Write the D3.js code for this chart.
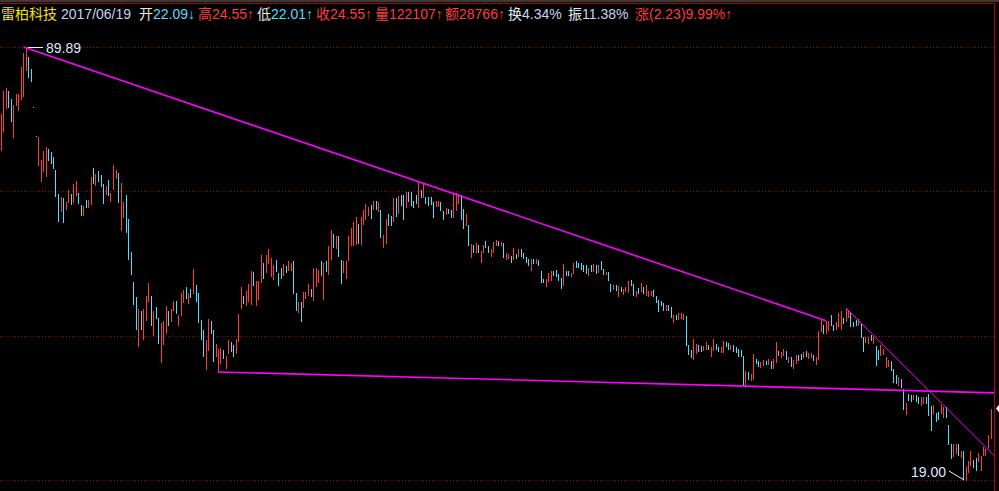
<!DOCTYPE html>
<html><head><meta charset="utf-8">
<script src="https://cdn.jsdelivr.net/npm/d3@7/dist/d3.min.js"></script>
<style>body{margin:0;background:#000;overflow:hidden}svg{display:block}</style>
</head><body>
<svg id="chart" width="999" height="491"></svg>
<script>
// ---------- data ----------
const stockName = "雷柏科技";
const tradeDate = "2017/06/19";
const headerItems = [
  ["开", "22.09↓", "w", "d"],
  ["高", "24.55↑", "u", "u"],
  ["低", "22.01↑", "w", "d"],
  ["收", "24.55↑", "u", "u"],
  ["量", "122107↑", "u", "u"],
  ["额", "28766↑", "u", "u"],
  ["换", "4.34%", "w", "n"],
  ["振", "11.38%", "w", "n"],
  ["涨", "(2.23)9.99%↑", "u", "u"]
];
const opens = [
62.11,66.50,72.22,76.76,74.59,65.09,73.01,71.70,74.59,75.40,
82.76,86.73,83.07,72.40,65.24,58.87,55.57,57.61,56.59,62.34,
61.67,60.58,57.81,53.04,49.90,52.29,50.26,51.54,53.04,51.54,
52.86,53.23,51.00,49.20,51.91,50.63,51.18,58.23,54.79,57.61,
56.79,54.98,53.04,55.77,51.73,54.00,56.18,57.20,46.61,48.84,
52.86,48.49,43.07,38.68,36.65,30.74,34.86,31.52,33.74,36.12,
36.78,31.98,35.36,33.99,29.03,30.96,32.21,34.86,33.62,34.98,
36.12,33.14,34.36,36.00,37.99,35.87,37.72,37.18,38.27,37.18,
33.74,32.55,28.30,30.30,33.62,32.55,29.66,28.00,28.92,30.30,
28.41,29.98,31.18,30.85,29.98,31.29,35.23,36.78,35.61,36.12,
35.74,40.09,35.61,36.38,38.68,41.41,40.09,41.41,39.52,39.09,
41.85,39.94,40.67,39.66,40.96,40.37,40.37,41.70,37.18,34.73,
36.00,35.36,36.52,36.92,37.72,36.25,38.13,38.68,41.70,36.38,
41.70,39.80,42.00,45.95,43.70,45.62,41.85,40.09,39.23,41.85,
44.17,44.17,44.33,47.63,44.33,47.63,48.49,49.20,51.00,50.26,
51.73,49.90,50.08,43.85,44.49,49.37,49.02,48.14,52.29,49.55,
52.86,52.86,50.63,53.42,53.42,51.73,52.86,50.63,53.80,52.48,
52.48,52.48,52.48,51.54,50.81,50.81,51.54,49.90,49.37,50.26,
50.08,48.84,50.08,51.36,52.86,50.26,47.46,47.46,42.31,44.17,
43.07,44.17,41.55,43.07,44.80,44.01,42.46,43.07,44.17,44.80,
44.17,44.49,42.00,42.16,42.46,42.00,42.77,42.46,43.54,42.92,
42.31,42.00,40.37,42.00,41.41,41.85,40.23,39.09,38.13,38.81,
38.95,40.23,40.37,39.80,39.23,38.27,40.23,40.23,39.52,39.94,
41.70,41.41,41.41,41.11,41.11,39.66,41.11,40.23,41.11,40.09,
41.70,40.52,39.80,40.09,38.40,37.72,38.27,36.78,37.99,37.05,
37.45,37.31,38.95,38.40,36.78,37.86,37.45,37.99,36.92,36.78,
36.92,37.58,36.78,36.25,36.12,35.87,34.98,35.61,35.36,33.50,
34.36,33.87,33.99,33.87,34.24,30.85,30.30,29.34,29.98,30.85,
30.74,30.30,30.41,30.85,29.66,30.30,30.96,30.63,30.09,30.09,
31.18,31.07,30.41,30.85,30.63,30.41,30.30,29.66,26.72,28.00,
27.20,27.30,29.34,29.13,28.51,28.72,29.13,28.82,29.13,28.41,
29.03,30.19,29.55,29.77,30.19,29.03,29.55,28.41,28.92,29.77,
29.87,29.55,30.19,29.45,29.55,29.77,28.82,29.34,32.44,33.14,
32.21,32.55,34.36,33.14,32.67,33.03,32.67,33.99,33.62,34.11,
34.73,33.50,33.74,33.14,33.38,31.75,31.18,31.07,31.98,31.07,
30.74,30.30,29.77,29.87,28.51,28.61,29.13,28.30,27.70,26.72,
27.30,26.34,24.09,25.88,25.78,25.41,25.78,25.60,24.88,25.05,
25.60,25.88,24.79,24.17,24.17,24.26,24.17,23.83,24.70,23.16,
21.62,20.71,20.94,21.62,20.64,21.09,19.00,19.55,20.05,20.41,
20.56,20.34,19.69,20.79,20.79,21.39,22.09
];
const closes = [
70.69,76.76,77.59,72.49,68.93,73.01,75.95,75.95,83.67,87.98,
89.89,80.72,79.57,72.40,65.24,65.09,59.92,61.89,62.79,59.92,
59.29,58.23,52.67,48.14,52.48,47.97,51.54,53.80,51.18,54.98,
55.57,51.36,49.20,50.81,50.63,51.91,56.39,55.18,57.00,55.57,
54.59,51.36,54.59,52.86,53.23,58.87,57.81,51.54,55.18,51.54,
46.28,42.00,39.80,35.74,32.67,35.11,32.67,35.11,36.78,38.54,
33.14,34.86,33.99,31.07,33.38,33.62,35.49,33.14,35.11,36.12,
34.61,34.36,37.18,37.58,36.52,37.18,36.65,40.52,36.12,33.50,
31.52,29.66,31.40,33.87,32.21,29.13,30.96,30.41,30.52,29.45,
29.66,31.40,30.19,29.66,31.52,34.48,37.99,35.87,37.45,38.40,
40.23,38.27,38.81,38.81,42.62,39.23,42.62,43.54,42.16,41.11,
40.23,38.27,39.23,41.26,40.09,41.70,41.41,37.18,34.98,36.00,
33.62,37.31,37.31,38.40,36.78,40.67,40.67,40.37,39.66,41.41,
40.23,44.01,46.61,43.85,45.62,42.46,38.54,41.70,41.70,45.62,
46.95,47.97,48.84,44.49,48.84,50.08,51.18,50.63,48.67,51.73,
50.26,51.54,45.46,45.79,48.49,47.46,47.46,52.29,49.02,52.67,
51.00,48.49,53.42,51.73,51.00,50.63,51.36,55.37,52.48,55.18,
51.36,51.00,51.18,48.84,51.73,51.73,50.08,48.49,50.45,49.55,
48.84,53.04,53.23,53.04,48.49,46.95,49.37,44.17,44.33,43.07,
44.49,43.07,43.23,44.17,43.85,43.07,43.54,44.64,44.96,44.17,
44.64,42.31,42.92,42.77,41.55,43.70,42.16,43.54,42.46,42.16,
41.55,41.11,42.00,41.41,42.00,41.11,38.68,38.68,39.09,39.94,
40.23,39.66,39.52,38.95,37.86,41.26,39.66,39.66,39.94,41.41,
40.81,40.81,40.52,40.23,39.94,40.67,40.23,41.26,39.94,41.11,
40.52,39.80,40.09,38.95,37.45,38.27,37.58,38.13,37.45,37.72,
37.99,38.81,38.27,36.92,37.45,37.18,38.54,37.18,38.27,37.45,
37.45,36.78,36.00,34.86,35.61,34.98,35.61,34.98,34.11,34.36,
33.87,34.61,34.61,34.48,30.85,29.87,29.55,31.52,30.96,30.19,
30.19,30.74,31.18,30.41,30.63,31.52,30.41,30.19,30.63,31.29,
30.74,30.41,30.85,30.19,30.09,29.66,29.66,26.72,28.10,27.30,
27.80,29.87,28.92,28.61,29.03,29.23,28.82,29.34,28.41,29.34,
31.18,29.77,30.09,30.41,29.34,29.55,28.61,29.23,29.77,29.23,
29.34,30.09,29.66,29.98,29.98,29.23,29.55,32.44,33.87,32.21,
33.62,33.62,33.14,32.55,33.50,34.61,34.86,33.38,35.11,34.98,
33.03,33.03,33.14,33.87,31.75,30.19,31.75,31.75,31.40,31.75,
28.72,29.34,30.85,30.41,29.55,29.23,28.20,27.01,26.91,27.50,
26.53,24.52,25.05,25.32,25.23,25.78,25.23,25.05,25.60,25.60,
25.05,24.00,22.74,24.88,23.49,23.66,24.88,24.70,23.83,21.62,
20.56,21.62,21.62,20.79,21.09,19.07,19.90,20.34,21.09,19.90,
19.69,20.94,20.71,21.39,21.24,22.34,24.55
];
// trend lines: [startIndex, startPrice, endIndex, endPrice]
const trendLines = [
  [9, 89.89, 330, 33.66],
  [338, 35.23, 397.2, 20.75],
  [87, 28.00, 397.2, 25.98]
];

// ---------- drawing ----------
const W = 999, H = 491;
const C = {up: "#ff3c3c", down: "#54dcfc", grid: "#8a1414", frame: "#b40000",
           trend: "#ff00ff", label: "#dce4ff", name: "#f4e20a", white: "#e8e8e8", num: "#c8d2f0"};
const n = opens.length;
const highs = opens.map((o, i) => Math.max(o, closes[i]));
const lows = opens.map((o, i) => Math.min(o, closes[i]));
const maxP = d3.max(highs), minP = d3.min(lows);
const iMax = d3.maxIndex(highs), iMin = d3.minIndex(lows);

const svg = d3.select("#chart");
svg.append("rect").attr("width", W).attr("height", H).attr("fill", "#000");
svg.append("rect").attr("x", 0).attr("y", 0).attr("width", W).attr("height", 2).attr("fill", "#3a3a3a");

const plotRight = 994;
const x = d3.scaleLinear().domain([0, n - 1]).range([1, 1 + 2.5 * (n - 1)]);
const y = d3.scaleLog().domain([minP, maxP]).range([480, 47]);

// frame
svg.append("line").attr("x1", 0).attr("x2", plotRight + 1).attr("y1", 3.5).attr("y2", 3.5)
  .attr("stroke", C.frame).attr("stroke-width", 1);
svg.append("line").attr("x1", plotRight + 0.5).attr("x2", plotRight + 0.5).attr("y1", 3).attr("y2", H)
  .attr("stroke", C.frame).attr("stroke-width", 1);

// grid (4 equally spaced levels over the log range)
const [r0, r1] = y.range();
const gridY = d3.range(4).map(k => r1 + k * (r0 - r1) / 3);
svg.append("g").selectAll("line").data(gridY).join("line")
  .attr("x1", 0).attr("x2", plotRight).attr("y1", d => Math.round(d) + 0.5).attr("y2", d => Math.round(d) + 0.5)
  .attr("stroke", C.grid).attr("stroke-width", 1).attr("stroke-dasharray", "1,2");

// candles
svg.append("g").attr("shape-rendering", "crispEdges").selectAll("rect")
  .data(d3.range(n)).join("rect")
  .attr("x", i => Math.floor(x(i)))
  .attr("width", 1)
  .attr("y", i => Math.round(y(highs[i])))
  .attr("height", i => Math.max(1, Math.round(y(lows[i])) - Math.round(y(highs[i])) + 1))
  .attr("fill", i => closes[i] > opens[i] ? C.up : C.down);

// trend lines
const ln = d3.line().x(d => x(d[0])).y(d => y(d[1]));
svg.append("g").selectAll("path").data(trendLines).join("path")
  .attr("d", t => ln([[t[0], t[1]], [t[2], t[3]]]))
  .attr("fill", "none").attr("stroke", C.trend)
  .attr("stroke-width", (t, k) => k === 1 ? 1 : 1.6);

// high / low labels
const hx = Math.floor(x(iMax)), hy = Math.round(y(maxP));
svg.append("line").attr("x1", hx + 2).attr("x2", hx + 17).attr("y1", hy + 0.5).attr("y2", hy + 0.5)
  .attr("stroke", "#f0f0f0").attr("stroke-width", 1);
svg.append("text").attr("x", hx + 20).attr("y", hy + 6).text(maxP.toFixed(2))
  .attr("fill", C.label).attr("font-family", "Liberation Sans, Arial, sans-serif").attr("font-size", 14);
const lx = Math.floor(x(iMin)), ly = Math.round(y(minP));
svg.append("line").attr("x1", lx - 2).attr("x2", lx - 17).attr("y1", ly).attr("y2", ly - 9)
  .attr("stroke", "#f0f0f0").attr("stroke-width", 1);
svg.append("text").attr("x", lx - 20).attr("y", ly - 3).attr("text-anchor", "end").text(minP.toFixed(2))
  .attr("fill", C.label).attr("font-family", "Liberation Sans, Arial, sans-serif").attr("font-size", 14);

// last price marker
const lastY = y(closes[n - 1]);
svg.append("path").attr("d", `M996,${lastY} L1000,${lastY - 5} L1000,${lastY + 5} Z`).attr("fill", "#ffffff");

// header
const colorOf = k => k === "u" ? C.up : k === "d" ? C.down : k === "w" ? C.white : C.num;
const header = svg.append("text").attr("y", 18.5)
  .attr("font-family", "Liberation Sans, Arial, 'Noto Sans CJK SC', sans-serif").attr("font-size", 14);
header.append("tspan").attr("x", 1).attr("fill", C.name).text(stockName);
header.append("tspan").attr("x", 61).attr("fill", C.num).text(tradeDate);
const headerX = [139, 198, 257, 316, 375, 445, 508, 568, 635];
headerItems.forEach((h, k) => {
  header.append("tspan").attr("x", headerX[k]).attr("fill", colorOf(h[2])).text(h[0]);
  header.append("tspan").attr("fill", colorOf(h[3])).text(h[1]);
});
</script>
</body></html>
